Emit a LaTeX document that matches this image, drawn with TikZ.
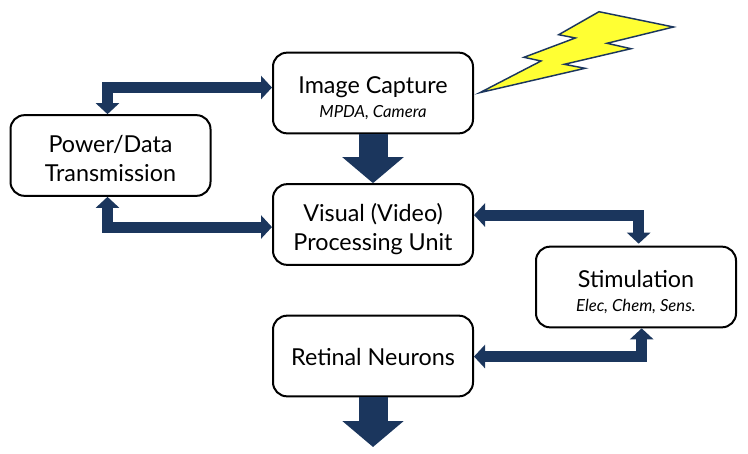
\documentclass[tikz,border=0pt]{standalone}
\usepackage{fontspec}
\setmainfont{Lato}
\usetikzlibrary{arrows.meta,calc}
\definecolor{navy}{RGB}{27,54,93}
\definecolor{bolt}{RGB}{255,255,51}
\newcommand{\topfill}[1]{\rule{0pt}{#1}}
\newcommand{\subtext}[1]{{\fontsize{12.5}{14}\itshape\selectfont #1}}
\tikzset{
  x=0.75pt,y=-0.75pt,
  box/.style={draw=black,line width=1.5pt,rounded corners=10.5pt,fill=white,inner sep=0pt,align=center,
    minimum width=150pt,minimum height=60.5pt,font=\fontsize{17.5}{22}\selectfont},
  link/.style={draw=navy,line width=8.25pt,line join=miter,
    {Triangle[length=8.25pt,width=17.25pt,fill=navy]}-{Triangle[length=8.25pt,width=17.25pt,fill=navy]}},
  flow/.style={draw=navy,line width=21.75pt,-{Triangle[length=19.5pt,width=45pt,fill=navy]}}
}
\begin{document}
\begin{tikzpicture}
\useasboundingbox (0,0) rectangle (748,453);
\node[box] (img) at (373,93) {\topfill{20pt}Image Capture\\[-4pt]\subtext{MPDA, Camera}};
\node[box] (pow) at (110.5,155.5) {\topfill{17pt}Power/Data\\Transmission};
\node[box] (vis) at (373,224.5) {\topfill{20pt}Visual (Video)\\Processing Unit};
\node[box] (stim) at (636,287) {\topfill{20pt}Stimulation\\[-4pt]\subtext{Elec, Chem, Sens.}};
\node[box] (ret) at (373,356) {\topfill{15pt}Retinal Neurons};
\coordinate (out) at (373,447);
\draw[fill=bolt,draw=navy,line width=1.1pt,line join=miter]
  (480,92.6)--(585,68.3)--(564.3,64.3)--(631,48.7)--(607,43.3)--(673.5,27)--(599,11.7)
  --(558.7,34.7)--(575.3,38)--(524,57.3)--(541,61)--cycle;
\draw[link] ([yshift=4.1pt]img.west) -| ([xshift=-2.25pt]pow.north);
\draw[link] ([xshift=-2.25pt]pow.south) |- ([yshift=-1.9pt]vis.west);
\draw[link] ([yshift=7.1pt]vis.east) -| ([xshift=2pt,yshift=1.5pt]stim.north);
\draw[link] ([yshift=-0.4pt]ret.east) -| ([xshift=4.25pt]stim.south);
\draw[flow] (img.south) -- (vis.north);
\draw[flow] (ret.south) -- (out);
\end{tikzpicture}
\end{document}
